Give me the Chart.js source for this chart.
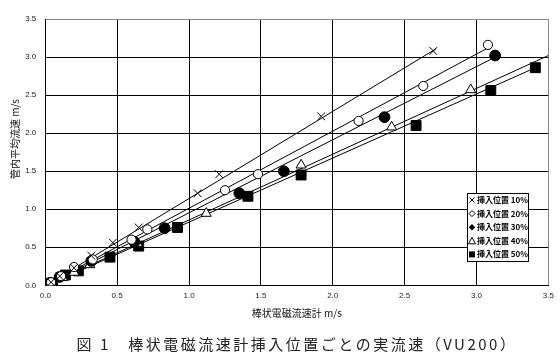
<!DOCTYPE html>
<html>
<head>
<meta charset="utf-8">
<script src="https://cdn.jsdelivr.net/npm/chart.js@4/dist/chart.umd.min.js"></script>
<style>
html,body{margin:0;padding:0;background:#fff;}
#wrap{position:relative;width:560px;height:362px;}
#caption{position:absolute;left:0;top:333px;width:594px;text-align:center;font-family:"Noto Sans CJK JP";font-size:15px;letter-spacing:2.5px;color:#222;white-space:pre;}
</style>
</head>
<body>
<div id="wrap">
<canvas id="c" width="560" height="362"></canvas>
<div id="caption">図 1　棒状電磁流速計挿入位置ごとの実流速（VU200）</div>
</div>
<script>
// ---- data ----
const seriesNames = ["挿入位置 10%", "挿入位置 20%", "挿入位置 30%", "挿入位置 40%", "挿入位置 50%"];
const x10 = [0.04, 0.10, 0.20, 0.32, 0.47, 0.65, 1.06, 1.21, 1.92, 2.70];
const y10 = [0.04, 0.12, 0.23, 0.39, 0.56, 0.76, 1.21, 1.46, 2.22, 3.08];
const x20 = [0.04, 0.11, 0.20, 0.33, 0.60, 0.71, 1.25, 1.48, 2.18, 2.63, 3.08];
const y20 = [0.04, 0.12, 0.24, 0.34, 0.60, 0.735, 1.25, 1.46, 2.16, 2.62, 3.16];
const x30 = [0.03, 0.10, 0.32, 0.62, 0.83, 1.35, 1.66, 2.36, 3.13];
const y30 = [0.03, 0.11, 0.32, 0.57, 0.75, 1.21, 1.50, 2.21, 3.02];
const x40 = [0.04, 0.12, 0.20, 0.31, 0.64, 1.12, 1.78, 2.41, 2.96];
const y40 = [0.03, 0.10, 0.17, 0.27, 0.55, 0.945, 1.58, 2.08, 2.57];
const x50 = [0.05, 0.14, 0.23, 0.45, 0.65, 0.92, 1.41, 1.78, 2.58, 3.10, 3.41];
const y50 = [0.03, 0.135, 0.19, 0.37, 0.515, 0.76, 1.17, 1.45, 2.10, 2.56, 2.86];
// trend line end points (x, y)
const trend10 = [[0.03, 0.03], [2.72, 3.11]];
const trend20 = [[0.03, 0.03], [3.07, 3.11]];
const trend30 = [[0.03, 0.02], [3.11, 2.98]];
const trend40 = [[0.03, 0.02], [3.50, 3.02]];
const trend50 = [[0.05, 0.03], [3.41, 2.86]];
const tickValues = [0, 0.5, 1.0, 1.5, 2.0, 2.5, 3.0, 3.5];
const xTitle = "棒状電磁流速計 m/s";
const yTitle = "管内平均流速 m/s";

const pts = (xs, ys) => xs.map((x, i) => ({x: x, y: ys[i]}));
const tl = t => t.map(p => ({x: p[0], y: p[1]}));

const markerStyles = [
  {pointStyle: 'crossRot', pointRadius: 5.5, backgroundColor: '#000', borderColor: '#000', pointBorderWidth: 1},
  {pointStyle: 'circle', pointRadius: 4.6, backgroundColor: '#fff', borderColor: '#000', pointBorderWidth: 1},
  {pointStyle: 'circle', pointRadius: 5.4, backgroundColor: '#000', borderColor: '#000', pointBorderWidth: 1},
  {pointStyle: 'triangle', pointRadius: 5.8, backgroundColor: '#fff', borderColor: '#000', pointBorderWidth: 1},
  {pointStyle: 'rect', pointRadius: 7, backgroundColor: '#000', borderColor: '#000', pointBorderWidth: 1}
];
const seriesData = [pts(x10, y10), pts(x20, y20), pts(x30, y30), pts(x40, y40), pts(x50, y50)];
const trendData = [tl(trend10), tl(trend20), tl(trend30), tl(trend40), tl(trend50)];

const datasets = [];
seriesData.forEach((d, i) => {
  datasets.push(Object.assign({label: seriesNames[i], data: d, showLine: false, order: 0, pointHoverRadius: 0}, markerStyles[i]));
});
trendData.forEach((d, i) => {
  datasets.push({label: 'trend' + i, data: d, showLine: true, borderColor: '#000', borderWidth: 1, pointRadius: 0, order: 1, fill: false});
});

const legendPlugin = {
  id: 'customLegend',
  afterDraw(chart) {
    const ctx = chart.ctx;
    ctx.save();
    // y axis title
    ctx.save();
    ctx.translate(15, 139);
    ctx.rotate(-Math.PI / 2);
    ctx.font = '10px "Noto Sans CJK JP"';
    ctx.fillStyle = '#111';
    ctx.textAlign = 'center';
    ctx.textBaseline = 'middle';
    ctx.fillText(yTitle, 0, 0);
    ctx.restore();
    // legend box
    const bx = 467.5, by = 193.5, bw = 61, bh = 68;
    ctx.fillStyle = '#fff';
    ctx.fillRect(bx, by, bw, bh);
    ctx.strokeStyle = '#000';
    ctx.lineWidth = 1;
    ctx.strokeRect(bx, by, bw, bh);
    const rowH = 13.6;
    seriesNames.forEach((name, i) => {
      const cy = by + 6.5 + i * rowH;
      const mx = 472;
      ctx.fillStyle = '#000';
      ctx.strokeStyle = '#000';
      ctx.beginPath();
      if (i === 0) {
        ctx.moveTo(mx - 2.5, cy - 2.5); ctx.lineTo(mx + 2.5, cy + 2.5);
        ctx.moveTo(mx + 2.5, cy - 2.5); ctx.lineTo(mx - 2.5, cy + 2.5);
        ctx.stroke();
      } else if (i === 1) {
        ctx.moveTo(mx, cy - 3); ctx.lineTo(mx + 3, cy); ctx.lineTo(mx, cy + 3); ctx.lineTo(mx - 3, cy); ctx.closePath();
        ctx.stroke();
      } else if (i === 2) {
        ctx.moveTo(mx, cy - 3.2); ctx.lineTo(mx + 3.2, cy); ctx.lineTo(mx, cy + 3.2); ctx.lineTo(mx - 3.2, cy); ctx.closePath();
        ctx.fill();
      } else if (i === 3) {
        ctx.moveTo(mx, cy - 3.5); ctx.lineTo(mx + 3.5, cy + 3); ctx.lineTo(mx - 3.5, cy + 3); ctx.closePath();
        ctx.stroke();
      } else {
        ctx.fillRect(mx - 3, cy - 3, 6, 6);
      }
      ctx.font = 'bold 8px "Noto Sans CJK JP"';
      ctx.textAlign = 'left';
      ctx.textBaseline = 'middle';
      ctx.fillText(name, 477, cy);
    });
    ctx.restore();
  }
};

const tickFont = {family: '"Liberation Sans", Arial, sans-serif', size: 8};

new Chart(document.getElementById('c'), {
  type: 'scatter',
  data: {datasets: datasets},
  options: {
    responsive: false,
    animation: false,
    events: [],
    layout: {padding: {left: 0, top: 19, right: 11.7, bottom: 42.7}},
    plugins: {legend: {display: false}, tooltip: {enabled: false}, title: {display: false}},
    scales: {
      x: {
        type: 'linear', min: 0, max: 3.5,
        afterBuildTicks(scale) { scale.ticks = tickValues.map(v => ({value: v})); },
        afterFit(scale) { scale.height = 34; },
        ticks: {padding: 6, color: '#222', font: tickFont, callback: v => Number(v).toFixed(1), maxRotation: 0},
        grid: {drawTicks: false, lineWidth: 1, color: c => (c.tick && c.tick.value === 3.5) ? '#8a8a8a' : '#000'},
        border: {display: true, color: '#000', width: 1},
        title: {display: true, text: xTitle, color: '#111', font: {family: '"Noto Sans CJK JP"', size: 10}, padding: {top: 0, bottom: 0}}
      },
      y: {
        type: 'linear', min: 0, max: 3.5,
        afterBuildTicks(scale) { scale.ticks = tickValues.map(v => ({value: v})); },
        afterFit(scale) { scale.width = 45.3; },
        ticks: {padding: 9, color: '#222', font: tickFont, callback: v => Number(v).toFixed(1)},
        grid: {drawTicks: false, lineWidth: 1, color: c => (c.tick && c.tick.value === 3.5) ? '#8a8a8a' : '#000'},
        border: {display: true, color: '#000', width: 1}
      }
    }
  },
  plugins: [legendPlugin]
});
</script>
</body>
</html>
